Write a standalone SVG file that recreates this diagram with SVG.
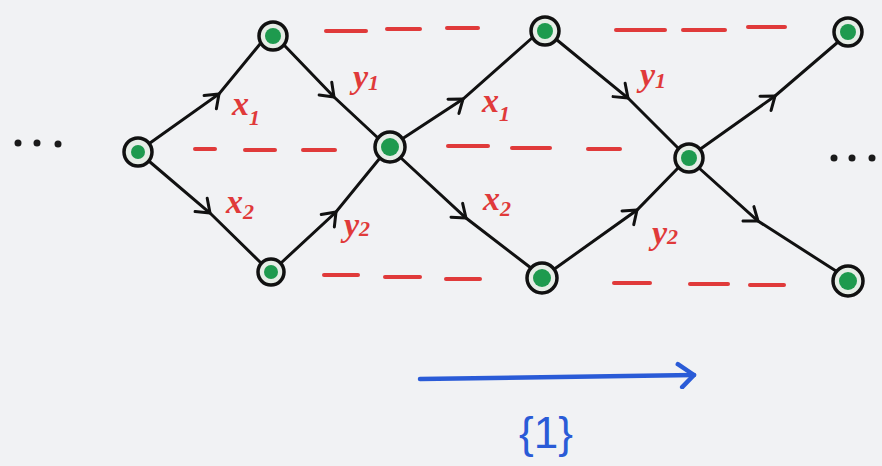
<svg xmlns="http://www.w3.org/2000/svg" width="882" height="466" viewBox="0 0 882 466">
<defs>
<marker id="chev" viewBox="-14 -11 16 22" markerWidth="16" markerHeight="22" markerUnits="userSpaceOnUse" orient="auto" refX="0" refY="0">
<path d="M-12,-9 L0,0 L-12,9" fill="none" stroke="#111" stroke-width="3" stroke-linecap="round" stroke-linejoin="round"/>
</marker>
<marker id="bluehead" viewBox="-20 -14 24 28" markerWidth="24" markerHeight="28" markerUnits="userSpaceOnUse" orient="auto" refX="0" refY="0">
<path d="M-16,-11 L0,0 L-12,12" fill="none" stroke="#2a5bd7" stroke-width="4.5" stroke-linecap="round" stroke-linejoin="round"/>
</marker>
</defs>
<style>
.edge{fill:none;stroke:#111;stroke-width:3;stroke-linecap:round;marker-mid:url(#chev)}
.dash{fill:none;stroke:#e03a3a;stroke-width:4;stroke-linecap:round}
.ring{fill:#e6ede6;stroke:#111;stroke-width:3.5}
.core{fill:#1e9a4e}
.lbl{font-family:"Liberation Serif",serif;font-style:italic;font-weight:bold;font-size:34px;fill:#e03a3a}
.sub{font-size:22px}
.dot{fill:#1a1a1a}
</style>
<rect width="882" height="466" fill="#f1f2f4"/>
<g id="dashes">
<line class="dash" x1="326" y1="31" x2="366" y2="31"/>
<line class="dash" x1="387" y1="29" x2="420" y2="29"/>
<line class="dash" x1="447" y1="28" x2="478" y2="28"/>
<line class="dash" x1="616" y1="30" x2="665" y2="30"/>
<line class="dash" x1="683" y1="30" x2="725" y2="30"/>
<line class="dash" x1="748" y1="27" x2="785" y2="27"/>
<line class="dash" x1="195" y1="149" x2="215" y2="149"/>
<line class="dash" x1="245" y1="150" x2="275" y2="150"/>
<line class="dash" x1="303" y1="150" x2="335" y2="150"/>
<line class="dash" x1="448" y1="146" x2="488" y2="146"/>
<line class="dash" x1="512" y1="148" x2="550" y2="148"/>
<line class="dash" x1="588" y1="149" x2="620" y2="149"/>
<line class="dash" x1="324" y1="275" x2="358" y2="275"/>
<line class="dash" x1="385" y1="277" x2="420" y2="277"/>
<line class="dash" x1="446" y1="279" x2="480" y2="279"/>
<line class="dash" x1="614" y1="283" x2="650" y2="283"/>
<line class="dash" x1="690" y1="284" x2="728" y2="284"/>
<line class="dash" x1="750" y1="285" x2="784" y2="285"/>
</g>
<g id="connectors">
<polyline class="edge" points="150,143 219,94 260,44"/>
<polyline class="edge" points="150,162 210,213 260,262"/>
<polyline class="edge" points="284,45 334,97 378,138"/>
<polyline class="edge" points="281,263 336,212 380,158"/>
<polyline class="edge" points="402,139 463,99 532,38"/>
<polyline class="edge" points="401,158 466,218 531,268"/>
<polyline class="edge" points="557,40 628,98 679,149"/>
<polyline class="edge" points="553,270 637,210 679,167"/>
<polyline class="edge" points="699,150 775,96 838,42"/>
<polyline class="edge" points="699,168 758,221 836,271"/>
<line x1="420" y1="379" x2="694" y2="375" stroke="#2a5bd7" stroke-width="4.5" stroke-linecap="round" marker-end="url(#bluehead)"/>
</g>
<g id="n0"><circle class="ring" cx="138" cy="152" r="14"/><circle class="core" cx="138" cy="152" r="7"/></g>
<g id="t1"><circle class="ring" cx="273" cy="36" r="14"/><circle class="core" cx="273" cy="36" r="8"/></g>
<g id="b1"><circle class="ring" cx="271" cy="272" r="13"/><circle class="core" cx="271" cy="272" r="7"/></g>
<g id="m1"><circle class="ring" cx="390" cy="147" r="15"/><circle class="core" cx="390" cy="147" r="9"/></g>
<g id="t2"><circle class="ring" cx="545" cy="31" r="14"/><circle class="core" cx="545" cy="31" r="8"/></g>
<g id="b2"><circle class="ring" cx="542" cy="278" r="15"/><circle class="core" cx="542" cy="278" r="9"/></g>
<g id="m2"><circle class="ring" cx="689" cy="158" r="14"/><circle class="core" cx="689" cy="158" r="8"/></g>
<g id="t3"><circle class="ring" cx="848" cy="32" r="14"/><circle class="core" cx="848" cy="32" r="8"/></g>
<g id="b3"><circle class="ring" cx="848" cy="281" r="15"/><circle class="core" cx="848" cy="281" r="9"/></g>
<g id="dots-left"><circle class="dot" cx="18" cy="143" r="3.5"/><circle class="dot" cx="37" cy="143" r="3.5"/><circle class="dot" cx="58" cy="144" r="3.5"/></g>
<g id="dots-right"><circle class="dot" cx="834" cy="158" r="3.5"/><circle class="dot" cx="852" cy="158" r="3.5"/><circle class="dot" cx="872" cy="158" r="3.5"/></g>
<g id="labels">
<text class="lbl" x="232" y="115">x<tspan class="sub" dy="10">1</tspan></text>
<text class="lbl" x="353" y="88">y<tspan class="sub" dy="2">1</tspan></text>
<text class="lbl" x="226" y="213">x<tspan class="sub" dy="6">2</tspan></text>
<text class="lbl" x="344" y="236">y<tspan class="sub" dy="0">2</tspan></text>
<text class="lbl" x="482" y="112">x<tspan class="sub" dy="9">1</tspan></text>
<text class="lbl" x="640" y="86">y<tspan class="sub" dy="2">1</tspan></text>
<text class="lbl" x="483" y="210">x<tspan class="sub" dy="6">2</tspan></text>
<text class="lbl" x="652" y="244">y<tspan class="sub" dy="0">2</tspan></text>
<text x="546" y="448" font-family="Liberation Sans, sans-serif" font-size="44" fill="#2a5bd7" text-anchor="middle">{1}</text>
</g>
</svg>
